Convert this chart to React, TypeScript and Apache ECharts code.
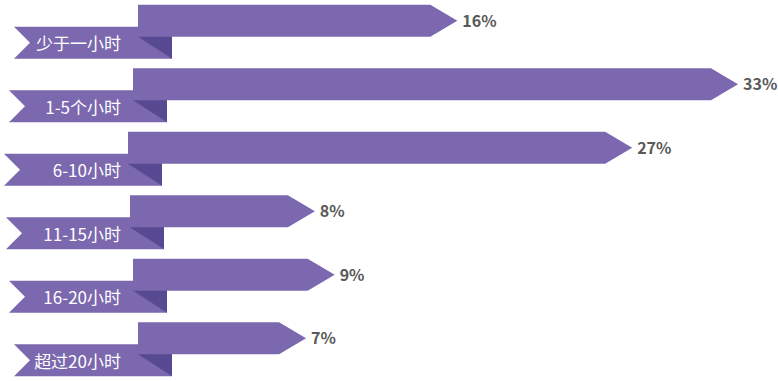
import React, { useEffect, useRef } from "react";
import * as echarts from "echarts";

const categories = ["少于一小时", "1-5个小时", "6-10小时", "11-15小时", "16-20小时", "超过20小时"];
const values = [16, 33, 27, 8, 9, 7];

// layout constants (not data)
const rowShift = [5, 0, -5, -3, 0, 5];
const MAIN = "#7B68AE";
const DARK = "#584A92";
const FONT = '"Noto Sans CJK SC", "Noto Sans", sans-serif';

export default function App() {
  const ref = useRef<HTMLDivElement>(null);
  useEffect(() => {
    document.body.style.margin = "0";
    const chart = echarts.init(ref.current!, null, { renderer: "svg" });
    const option = {
      animation: false,
      grid: { left: 133, right: 40, top: -2, bottom: -2 },
      xAxis: { type: "value", min: -3, max: 33, show: false },
      yAxis: { type: "category", data: categories, inverse: true, show: false },
      series: [
        {
          type: "custom",
          clip: false,
          data: values.map((v, i) => [v, i]),
          encode: { x: 0, y: 1 },
          renderItem: (params: any, api: any) => {
            const idx = params.dataIndex;
            const v = api.value(0);
            const shift = rowShift[idx];
            const tip = api.coord([v, idx]);
            const base = api.coord([-3, idx])[0];
            const barLeft = base + shift;
            const tipX = tip[0] + shift;
            const top = tip[1] - 27;
            const bh = 32;
            const rTop = top + 22;
            const rBot = top + 54;
            const rLeft = barLeft - 124;
            const rRight = barLeft + 34;
            return {
              type: "group",
              children: [
                {
                  type: "polygon",
                  shape: {
                    points: [
                      [rLeft, rTop],
                      [rRight, rTop],
                      [rRight, rBot],
                      [rLeft, rBot],
                      [rLeft + 16, (rTop + rBot) / 2],
                    ],
                  },
                  style: { fill: MAIN },
                },
                {
                  type: "polygon",
                  shape: {
                    points: [
                      [barLeft, top],
                      [tipX - 27, top],
                      [tipX, top + bh / 2],
                      [tipX - 27, top + bh],
                      [barLeft, top + bh],
                    ],
                  },
                  style: { fill: MAIN },
                },
                {
                  type: "polygon",
                  shape: {
                    points: [
                      [barLeft, top + bh],
                      [rRight, top + bh],
                      [rRight, rBot],
                    ],
                  },
                  style: { fill: DARK },
                },
                {
                  type: "text",
                  x: base - 12,
                  y: (rTop + rBot) / 2,
                  style: {
                    text: categories[idx],
                    fill: "#ffffff",
                    font: `17px ${FONT}`,
                    align: "right",
                    verticalAlign: "middle",
                  },
                },
                {
                  type: "text",
                  x: tipX + 5,
                  y: top + bh / 2 - 1,
                  style: {
                    text: v + "%",
                    fill: "#595959",
                    font: `bold 16px ${FONT}`,
                    align: "left",
                    verticalAlign: "middle",
                  },
                },
              ],
            };
          },
        },
      ],
    };
    chart.setOption(option as any);
    return () => chart.dispose();
  }, []);
  return <div ref={ref} style={{ width: 778, height: 381 }} />;
}
